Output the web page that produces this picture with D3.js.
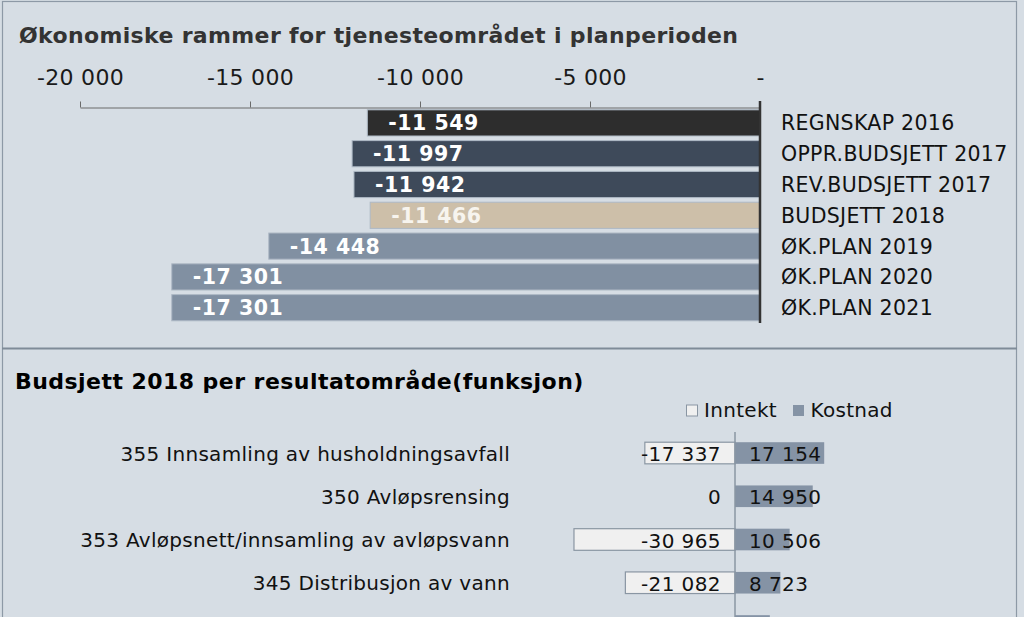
<!DOCTYPE html>
<html>
<head>
<meta charset="utf-8">
<script src="https://cdn.jsdelivr.net/npm/d3@7"></script>
<style>
  html, body { margin: 0; padding: 0; background: #d6dde4; }
  svg { display: block; }
</style>
</head>
<body>
<svg id="chart" width="1024" height="617"></svg>
<script>
// ---------- DATA ----------
const topCategories = ["REGNSKAP 2016", "OPPR.BUDSJETT 2017", "REV.BUDSJETT 2017", "BUDSJETT 2018", "ØK.PLAN 2019", "ØK.PLAN 2020", "ØK.PLAN 2021"];
const topValues = [-11549, -11997, -11942, -11466, -14448, -17301, -17301];
const topTicks = [-20000, -15000, -10000, -5000, 0];

const bottomCategories = ["355 Innsamling av husholdningsavfall", "350 Avløpsrensing", "353 Avløpsnett/innsamling av avløpsvann", "345 Distribusjon av vann", "340 Produksjon av vann"];
const inntektValues = [-17337, 0, -30965, -21082, 0];
const kostnadValues = [17154, 14950, 10506, 8723, 6700];
const legendLabels = ["Inntekt", "Kostnad"];

const topTitle = "Økonomiske rammer for tjenesteområdet i planperioden";
const bottomTitle = "Budsjett 2018 per resultatområde(funksjon)";

// ---------- SETUP ----------
const svg = d3.select("#chart");
const W = 1024, H = 617;
const FONT = "'DejaVu Sans', Verdana, sans-serif";
const loc = d3.formatLocale({decimal: ",", thousands: " ", grouping: [3], currency: ["", ""], minus: "-"});
const fmt = loc.format(",d");
const fmtTick = d => d === 0 ? "-" : fmt(d);

const topColors = ["#2d2d2d", "#3e4a5a", "#3e4a5a", "#cdbfa9", "#8190a2", "#8190a2", "#8190a2"];

// background + frame
svg.append("rect").attr("x", 0).attr("y", 0).attr("width", W).attr("height", H).attr("fill", "#d6dde4");
svg.append("rect").attr("x", 2.5).attr("y", 1.5).attr("width", 1014).attr("height", H + 10)
  .attr("fill", "none").attr("stroke", "#8d99a6").attr("stroke-width", 1.2);
svg.append("line").attr("x1", 2).attr("x2", 1017).attr("y1", 348.5).attr("y2", 348.5)
  .attr("stroke", "#7f8b98").attr("stroke-width", 2);

// ---------- TOP CHART ----------
svg.append("text").attr("x", 19).attr("y", 43).text(topTitle)
  .attr("font-family", FONT).attr("font-weight", "bold").attr("font-size", 22)
  .attr("letter-spacing", 0.35).attr("fill", "#333");

const x1 = d3.scaleLinear().domain([-20000, 0]).range([80, 760]);
const y1 = d3.scaleBand().domain(topCategories).range([107.5, 323.1]).paddingInner(0.15).paddingOuter(0.075);

const axisG = svg.append("g").attr("transform", "translate(0,107.5)")
  .call(d3.axisTop(x1).tickValues(topTicks).tickFormat(fmtTick).tickSize(6).tickPadding(17).tickSizeOuter(0));
axisG.select(".domain").attr("stroke", "#6b6b6b");
axisG.selectAll(".tick line").attr("stroke", "#6b6b6b");
axisG.selectAll(".tick text").attr("font-family", FONT).attr("font-size", 22)
  .attr("letter-spacing", 0.3).attr("fill", "#1a1a1a");

svg.append("g").selectAll("rect").data(topValues).join("rect")
  .attr("x", d => x1(d))
  .attr("y", (d, i) => y1(topCategories[i]))
  .attr("width", d => x1(0) - x1(d))
  .attr("height", y1.bandwidth())
  .attr("fill", (d, i) => topColors[i])
  .attr("stroke", "#aeb9c5").attr("stroke-width", 1);

svg.append("g").selectAll("text").data(topValues).join("text")
  .attr("x", d => x1(d) + 21)
  .attr("y", (d, i) => y1(topCategories[i]) + y1.bandwidth() / 2 + 7.5)
  .text(d => fmt(d))
  .attr("font-family", FONT).attr("font-weight", "bold").attr("font-size", 20.5)
  .attr("letter-spacing", 0.5)
  .attr("fill", (d, i) => i === 3 ? "#f7f4ee" : "#ffffff");

svg.append("line").attr("x1", x1(0)).attr("x2", x1(0)).attr("y1", 101).attr("y2", 323)
  .attr("stroke", "#333").attr("stroke-width", 2.5);

svg.append("g").selectAll("text").data(topCategories).join("text")
  .attr("x", 781)
  .attr("y", d => y1(d) + y1.bandwidth() / 2 + 7.5)
  .text(d => d)
  .attr("font-family", FONT).attr("font-size", 20.5).attr("letter-spacing", 0.3).attr("fill", "#111");

// ---------- BOTTOM CHART ----------
svg.append("text").attr("x", 15).attr("y", 389).text(bottomTitle)
  .attr("font-family", FONT).attr("font-weight", "bold").attr("font-size", 22)
  .attr("letter-spacing", 0.45).attr("fill", "#000");

const x2 = d3.scaleLinear().domain([-20000, 20000]).range([735 - 104, 735 + 104]);
const y2 = d3.scaleBand().domain(bottomCategories).range([431.4, 647.6]).paddingInner(0.5).paddingOuter(0.25);
const visible = c => y2(c) + y2.bandwidth() < H;

// legend
const legendFill = ["#f0f0f0", "#8593a5"];
const legendX = [686.5, 793];
const lg = svg.append("g").selectAll("g").data(legendLabels).join("g");
lg.append("rect").attr("x", (d, i) => legendX[i]).attr("y", 405).attr("width", 11).attr("height", 11)
  .attr("fill", (d, i) => legendFill[i]).attr("stroke", (d, i) => i === 0 ? "#8a96a3" : "none");
lg.append("text").attr("x", (d, i) => legendX[i] + 17.5).attr("y", 417).text(d => d)
  .attr("font-family", FONT).attr("font-size", 20).attr("letter-spacing", 0.3).attr("fill", "#111");

// Inntekt bars
svg.append("g").selectAll("rect").data(inntektValues).join("rect")
  .attr("x", d => x2(d))
  .attr("y", (d, i) => y2(bottomCategories[i]))
  .attr("width", d => x2(0) - x2(d))
  .attr("height", y2.bandwidth())
  .attr("fill", "#f0f0f0")
  .attr("stroke", d => d === 0 ? "none" : "#8a96a3").attr("stroke-width", 1.2);

// Kostnad bars
svg.append("g").selectAll("rect").data(kostnadValues).join("rect")
  .attr("x", x2(0))
  .attr("y", (d, i) => y2(bottomCategories[i]))
  .attr("width", d => x2(d) - x2(0))
  .attr("height", y2.bandwidth())
  .attr("fill", "#8593a5");

svg.append("line").attr("x1", x2(0)).attr("x2", x2(0)).attr("y1", 432).attr("y2", H)
  .attr("stroke", "#8a96a3").attr("stroke-width", 1.5);

// value labels (only rows that fit inside the picture)
const rows = bottomCategories.map((c, i) => ({c, inn: inntektValues[i], kost: kostnadValues[i]})).filter(r => visible(r.c));

svg.append("g").selectAll("text").data(rows).join("text")
  .attr("x", x2(0) - 14)
  .attr("y", r => y2(r.c) + y2.bandwidth() / 2 + 8)
  .attr("text-anchor", "end")
  .text(r => fmt(r.inn))
  .attr("font-family", FONT).attr("font-size", 20).attr("letter-spacing", 0.4).attr("fill", "#111");

svg.append("g").selectAll("text").data(rows).join("text")
  .attr("x", x2(0) + 14)
  .attr("y", r => y2(r.c) + y2.bandwidth() / 2 + 8)
  .text(r => fmt(r.kost))
  .attr("font-family", FONT).attr("font-size", 20).attr("letter-spacing", 0.4).attr("fill", "#111");

// category labels
svg.append("g").selectAll("text").data(rows).join("text")
  .attr("x", 510)
  .attr("y", r => y2(r.c) + y2.bandwidth() / 2 + 7.5)
  .attr("text-anchor", "end")
  .text(r => r.c)
  .attr("font-family", FONT).attr("font-size", 20).attr("letter-spacing", 0.3).attr("fill", "#111");
</script>
</body>
</html>
